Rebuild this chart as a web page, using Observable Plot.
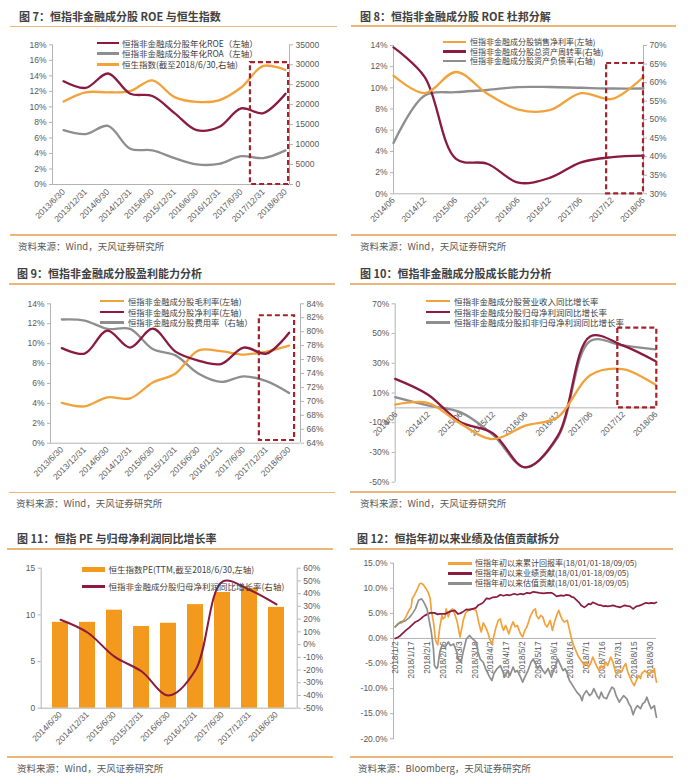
<!DOCTYPE html>
<html><head><meta charset="utf-8">
<script src="https://cdn.jsdelivr.net/npm/d3@7"></script>
<script src="https://cdn.jsdelivr.net/npm/@observablehq/plot@0.6"></script>
<style>
html,body{margin:0;padding:0;background:#fff;}
#root{position:relative;width:696px;height:784px;overflow:hidden;background:#fff;}
.t{position:absolute;white-space:nowrap;}
</style></head><body><div id="root"></div>
<script>
// ---------- DATA ----------
const cats7 = ["2013/6/30","2013/12/31","2014/6/30","2014/12/31","2015/6/30","2015/12/31","2016/6/30","2016/12/31","2017/6/30","2017/12/31","2018/6/30"];
const roe7 = [13.3,12.45,14.3,11.7,11.4,9.2,7.0,7.4,9.8,9.2,11.7];
const roa7 = [7.0,6.5,7.55,4.6,4.4,3.4,2.6,2.65,3.65,3.4,4.4];
const hsi7 = [20800,23100,23100,23400,26100,21900,20700,21100,24300,29700,28700];
const yTicks7 = [0,2,4,6,8,10,12,14,16,18];
const rTicks7 = [0,5000,10000,15000,20000,25000,30000,35000];

const cats8 = ["2014/06","2014/12","2015/06","2015/12","2016/06","2016/12","2017/06","2017/12","2018/06"];
const npm8 = [11.15,9.5,11.5,9.45,7.95,7.9,9.5,8.95,11.05];
const turn8 = [69.5,61.5,39.4,38.1,33.0,34.3,38.5,39.9,40.3];
const debt8 = [43.7,56.5,57.4,58.0,58.8,58.8,58.6,58.4,58.4];
const yTicks8 = [0,2,4,6,8,10,12,14];
const rTicks8 = [30,35,40,45,50,55,60,65,70];

const cats9 = cats7;
const gpm9 = [4.05,3.7,4.6,4.5,6.1,7.0,9.3,9.25,8.9,9.2,9.8];
const npm9 = [9.55,9.0,11.3,9.6,11.5,9.2,8.3,7.95,9.6,9.0,11.1];
const exp9 = [81.75,81.6,80.4,80.4,77.5,76.6,74.0,72.8,73.6,72.9,71.2];
const yTicks9 = [0,2,4,6,8,10,12,14];
const rTicks9 = [64,66,68,70,72,74,76,78,80,82,84];

const cats10 = cats8;
const rev10 = [2.2,3.4,-10.5,-21,-12,-6.3,22,26,15.7];
const np10 = [19.5,9,-9.5,-17,-40,-19,48,42,31.5];
const dnp10 = [7.2,1.6,-2.9,-18,-40,-20,45,42,39.3];
const yTicks10 = [-50,-30,-10,10,30,50,70];

const cats11 = ["2014/6/30","2014/12/31","2015/6/30","2015/12/31","2016/6/30","2016/12/31","2017/6/30","2017/12/31","2018/6/30"];
const pe11 = [9.2,9.2,10.5,8.75,9.1,11.1,12.4,12.85,10.8];
const np11 = [19.5,9.5,-9.5,-21,-40,-20,49.5,43,31.5];
const yTicks11 = [0,5,10,15];
const rTicks11 = [-50,-40,-30,-20,-10,0,10,20,30,40,50,60];

const ticks12 = ["1/2","1/17","2/1","2/16","3/3","3/18","4/2","4/17","5/2","5/17","6/1","6/16","7/1","7/16","7/31","8/15","8/30"];
const yTicks12 = [-20,-15,-10,-5,0,5,10,15];
const retDates = ["1/2","1/5","1/8","1/10","1/12","1/15","1/17","1/18","1/20","1/23","1/25","1/27","1/29","1/30","2/1","2/2","2/4","2/5","2/7","2/9","2/11","2/13","2/15","2/16","2/18","2/19","2/21","2/23","2/25","2/27","3/1","3/2","3/4","3/6","3/7","3/9","3/10","3/13","3/16","3/19","3/20","3/22","3/24","3/26","3/28","3/30","4/1","4/3","4/5","4/7","4/9","4/11","4/12","4/14","4/16","4/19","4/21","4/23","4/25","4/27","4/30","5/2","5/4","5/6","5/9","5/12","5/14","5/15","5/17","5/19","5/21","5/23","5/25","5/28","5/30","6/1","6/3","6/5","6/6","6/8","6/10","6/13","6/15","6/17","6/19","6/21","6/23","6/25","6/27","6/29","7/1","7/3","7/5","7/7","7/9","7/11","7/13","7/15","7/17","7/19","7/21","7/24","7/26","7/28","7/29","8/1","8/3","8/5","8/7","8/9","8/11","8/13","8/15","8/17","8/19","8/21","8/22","8/25","8/28","8/29","8/31","9/2","9/3","9/4","9/5"];
const retVals = [2.3,3.0,3.1,3.6,4.3,5.6,6.2,7.9,8.6,9.9,10.9,11.0,10.6,10.2,9.6,9.2,7.9,5.6,3.3,-0.4,-1.3,2.3,4.6,3.9,4.3,5.9,4.3,5.6,5.9,4.9,3.6,2.6,0.3,2.3,3.6,4.9,5.2,5.9,5.9,5.6,4.9,2.9,1.3,3.1,2.3,1.3,-0.1,-1.1,0.6,2.3,3.6,3.9,2.9,1.6,2.6,0.9,2.3,3.3,2.3,2.6,0.9,0.3,1.6,2.3,4.3,5.6,5.9,4.6,3.9,4.6,4.3,2.9,2.3,3.6,1.6,3.3,4.6,5.6,4.9,3.9,3.3,3.6,1.8,-0.1,-1.4,-2.4,-3.4,-4.1,-4.7,-5.4,-4.7,-5.7,-5.0,-3.7,-4.7,-5.7,-6.4,-5.4,-6.0,-4.7,-5.4,-3.7,-4.7,-6.4,-7.0,-6.4,-6.7,-5.7,-5.0,-6.7,-7.7,-8.7,-9.4,-8.4,-7.4,-8.0,-7.0,-6.4,-7.0,-7.4,-6.4,-6.7,-6.0,-7.7,-8.7];
const perfDates = ["1/2","1/5","1/7","1/10","1/12","1/15","1/17","1/19","1/21","1/24","1/26","1/28","1/30","2/2","2/4","2/8","2/11","2/13","2/18","2/21","2/23","2/27","3/2","3/4","3/6","3/10","3/13","3/16","3/19","3/21","3/24","3/26","3/29","4/1","4/4","4/8","4/11","4/14","4/17","4/20","4/24","4/27","4/30","5/3","5/6","5/9","5/12","5/15","5/18","5/22","5/25","5/29","5/31","6/3","6/5","6/7","6/10","6/12","6/15","6/17","6/19","6/22","6/24","6/26","6/29","7/1","7/3","7/5","7/7","7/10","7/12","7/15","7/17","7/19","7/21","7/24","7/26","7/29","8/2","8/4","8/6","8/8","8/11","8/14","8/17","8/19","8/22","8/24","8/26","8/29","8/31","9/3","9/5"];
const perfVals = [0,0.3,0.6,1.2,1.6,2.1,2.5,2.9,3.3,3.6,3.9,4.3,4.6,4.9,5.1,5.1,4.8,4.9,4.9,5.2,5.4,5.6,4.9,5.0,5.2,5.8,5.7,5.9,6.1,6.6,6.9,7.2,8.0,7.9,8.2,8.3,8.7,8.5,8.7,8.6,8.9,8.7,8.9,8.8,9.1,9.0,9.3,9.2,9.1,9.0,9.1,9.1,8.9,8.4,8.5,8.6,8.5,8.7,8.6,8.3,8.2,7.6,7.2,6.6,6.2,6.5,6.9,6.8,7.2,6.9,6.7,6.6,6.4,6.5,6.4,6.5,6.6,6.4,6.2,6.4,6.6,6.5,6.4,5.9,6.4,6.5,6.7,6.9,7.1,7.0,7.1,7.0,7.2];
const valDates = ["1/2","1/5","1/7","1/10","1/12","1/15","1/17","1/19","1/21","1/24","1/27","1/29","2/1","2/3","2/5","2/7","2/8","2/10","2/11","2/13","2/15","2/18","2/21","2/23","2/26","3/1","3/2","3/5","3/7","3/10","3/13","3/16","3/19","3/21","3/23","3/26","3/28","4/1","4/3","4/5","4/8","4/11","4/13","4/15","4/18","4/20","4/23","4/25","4/27","4/30","5/2","5/4","5/7","5/10","5/12","5/14","5/16","5/18","5/21","5/23","5/26","5/29","5/31","6/2","6/4","6/6","6/9","6/11","6/13","6/15","6/17","6/19","6/22","6/25","6/27","6/28","7/1","7/4","7/6","7/8","7/11","7/13","7/15","7/17","7/20","7/22","7/25","7/27","7/29","8/1","8/3","8/5","8/8","8/10","8/12","8/14","8/16","8/18","8/21","8/23","8/25","8/27","8/29","8/31","9/3","9/4","9/5"];
const valVals = [2.3,2.9,3.3,3.4,3.6,4.1,4.6,5.2,5.9,7.6,7.9,7.2,5.9,3.6,1.3,-2.1,-5.4,-6.0,-5.7,-2.7,-1.4,-1.7,-0.7,-1.4,-1.1,-2.7,-4.1,-4.7,-2.7,-0.1,0.6,-0.1,-0.7,-2.7,-4.1,-4.8,-6.0,-7.7,-8.4,-7.0,-6.0,-5.4,-6.4,-7.7,-6.4,-7.4,-5.7,-6.7,-6.4,-7.7,-8.7,-7.7,-6.4,-4.7,-4.1,-5.0,-6.0,-5.4,-6.4,-7.0,-6.0,-7.7,-6.4,-5.4,-4.1,-5.0,-6.4,-6.0,-7.0,-8.4,-9.0,-9.7,-10.7,-11.4,-12.4,-11.4,-10.4,-11.4,-11.0,-10.0,-11.4,-12.0,-10.7,-11.7,-12.0,-11.0,-9.7,-10.0,-11.4,-12.7,-12.0,-11.4,-12.0,-13.0,-13.7,-15.2,-14.0,-13.4,-14.0,-13.0,-12.7,-11.7,-13.0,-14.0,-13.4,-14.7,-15.7];

// highlight (dashed box) annotations, in data units
const hl7 = [{x1:8.42,x2:10.14,y1:0,y2:15.7}];
const hl8 = [{x1:6.82,x2:8,y1:0,y2:12.3}];
const hl9 = [{x1:8.69,x2:10.24,y1:0.27,y2:12.8}];
const hl10 = [{x1:6.85,x2:8.05,y1:0,y2:53.6}];

// ---------- STYLE ----------
const ORANGE="#F2A23A", RED="#8A1A3E", GRAY="#8E8E8E", BAR="#F39A1E", BOXC="#A3222B";
const AX="#b3b3b3", TICK="#595959";
const NUM="'Liberation Sans', Arial, sans-serif", CJK="'Noto Sans CJK SC','Noto Sans',sans-serif";
const ST = {fontFamily:NUM, fontSize:"8.5px", background:"transparent", overflow:"visible", color:TICK};
const AXO = {stroke:AX, fill:TICK, tickSize:3, tickPadding:3, label:null};
const LW = 2.3;
const root = document.getElementById("root");

function txt(s,x,cy,size,o={}){
  const d=document.createElement("div"); d.className="t"; d.textContent=s;
  const lh=o.lh!==undefined?o.lh:Math.round(size*1.3);
  Object.assign(d.style,{left:x+"px",top:(cy-lh/2)+"px",fontSize:size+"px",lineHeight:lh+"px",height:lh+"px",
    fontFamily:o.font||CJK,color:o.color||"#404040",fontWeight:o.weight||"normal"});
  root.append(d);
}
function blk(x,y,w,h,bg){const d=document.createElement("div");
  Object.assign(d.style,{position:"absolute",left:x+"px",top:y+"px",width:w+"px",height:h+"px",background:bg});root.append(d);}
function rule(x1,x2,y){blk(x1,y-0.75,x2-x1,1.5,"#E9B77A");}
function legend(items,sx1,sx2,tx,ys,size=8.5){
  items.forEach((it,k)=>{
    if(it.bar) blk(sx1,ys[k]-2,sx2-sx1,4.5,it.color); else blk(sx1,ys[k]-1.25,sx2-sx1,2.5,it.color);
    txt(it.label,tx,ys[k],size,{lh:size});
  });
}
function mount(p,l,t){p.style.position="absolute";p.style.left=l+"px";p.style.top=t+"px";root.append(p);}
const dash = (data)=>Plot.rect(data,{x1:"x1",x2:"x2",y1:"y1",y2:"y2",fill:"none",stroke:BOXC,strokeWidth:2.2,strokeDasharray:"5,3"});

// ---------- FIG 7 ----------
{
  const d = cats7.map((c,i)=>({i,roe:roe7[i],roa:roa7[i],hsi:hsi7[i]}));
  const k = 18/35000;
  mount(Plot.plot({
    width:345,height:205,marginTop:14.3,marginBottom:51,marginLeft:52,marginRight:56,
    x:{domain:[-0.5,10.18]}, y:{domain:[0,18]}, style:ST,
    marks:[
      Plot.ruleX([-0.5],{stroke:AX}), Plot.ruleX([10.18],{stroke:AX}), Plot.ruleY([0],{stroke:AX}),
      Plot.axisY({...AXO,anchor:"left",ticks:yTicks7,tickFormat:v=>v+"%"}),
      Plot.axisY({...AXO,anchor:"right",ticks:rTicks7.map(v=>v*k),tickFormat:v=>String(Math.round(v/k))}),
      Plot.axisX({...AXO,anchor:"bottom",ticks:d3.range(cats7.length),tickFormat:i=>cats7[i],tickRotate:-45,tickSize:0,tickPadding:6}),
      Plot.line(d,{x:"i",y:v=>v.hsi*k,stroke:ORANGE,strokeWidth:LW,curve:"catmull-rom"}),
      Plot.line(d,{x:"i",y:"roa",stroke:GRAY,strokeWidth:LW,curve:"catmull-rom"}),
      Plot.line(d,{x:"i",y:"roe",stroke:RED,strokeWidth:LW,curve:"catmull-rom"}),
      dash(hl7)
    ]}),0,30);
  legend([{label:"恒指非金融成分股年化ROE（左轴）",color:RED},{label:"恒指非金融成分股年化ROA（左轴）",color:GRAY},{label:"恒生指数(截至2018/6/30,右轴)",color:ORANGE}],97,119,122,[43,53.7,64.5]);
}
// ---------- FIG 8 ----------
{
  const d = cats8.map((c,i)=>({i,npm:npm8[i],turn:turn8[i],debt:debt8[i]}));
  const f = r=>(r-30)*14/40;
  mount(Plot.plot({
    width:345,height:205,marginTop:15,marginBottom:41.7,marginLeft:45,marginRight:50,
    x:{domain:[0,8]}, y:{domain:[0,14]}, style:ST,
    marks:[
      Plot.ruleX([0],{stroke:AX}), Plot.ruleX([8],{stroke:AX}), Plot.ruleY([0],{stroke:AX}),
      Plot.axisY({...AXO,anchor:"left",ticks:yTicks8,tickFormat:v=>v+"%"}),
      Plot.axisY({...AXO,anchor:"right",ticks:rTicks8.map(f),tickFormat:v=>Math.round(v*40/14+30)+"%"}),
      Plot.axisX({...AXO,anchor:"bottom",ticks:d3.range(cats8.length),tickFormat:i=>cats8[i],tickRotate:-45,tickSize:0,tickPadding:5}),
      Plot.line(d,{x:"i",y:v=>f(v.debt),stroke:GRAY,strokeWidth:LW,curve:"catmull-rom"}),
      Plot.line(d,{x:"i",y:v=>f(v.turn),stroke:RED,strokeWidth:LW,curve:"catmull-rom"}),
      Plot.line(d,{x:"i",y:"npm",stroke:ORANGE,strokeWidth:LW,curve:"catmull-rom"}),
      dash(hl8)
    ]}),348,30);
  legend([{label:"恒指非金融成分股销售净利率(左轴)",color:ORANGE},{label:"恒指非金融成分股总资产周转率(右轴)",color:RED},{label:"恒指非金融成分股资产负债率(右轴)",color:GRAY}],443,466,470,[42,51.5,61],8);
}
// ---------- FIG 9 ----------
{
  const d = cats9.map((c,i)=>({i,g:gpm9[i],n:npm9[i],e:exp9[i]}));
  const f = r=>(r-64)*14/20;
  mount(Plot.plot({
    width:345,height:200,marginTop:15.3,marginBottom:45.3,marginLeft:50,marginRight:45,
    x:{domain:[-0.5,10.5]}, y:{domain:[0,14]}, style:ST,
    marks:[
      Plot.ruleX([-0.5],{stroke:AX}), Plot.ruleX([10.5],{stroke:AX}), Plot.ruleY([0],{stroke:AX}),
      Plot.axisY({...AXO,anchor:"left",ticks:yTicks9,tickFormat:v=>v+"%"}),
      Plot.axisY({...AXO,anchor:"right",ticks:rTicks9.map(f),tickFormat:v=>Math.round(v*20/14+64)+"%"}),
      Plot.axisX({...AXO,anchor:"bottom",ticks:d3.range(cats9.length),tickFormat:i=>cats9[i],tickRotate:-45,tickSize:0,tickPadding:5}),
      Plot.line(d,{x:"i",y:v=>f(v.e),stroke:GRAY,strokeWidth:LW,curve:"catmull-rom"}),
      Plot.line(d,{x:"i",y:"g",stroke:ORANGE,strokeWidth:LW,curve:"catmull-rom"}),
      Plot.line(d,{x:"i",y:"n",stroke:RED,strokeWidth:LW,curve:"catmull-rom"}),
      dash(hl9)
    ]}),0,288);
  legend([{label:"恒指非金融成分股毛利率(左轴)",color:ORANGE},{label:"恒指非金融成分股净利率(左轴)",color:RED},{label:"恒指非金融成分股费用率（右轴）",color:GRAY}],100,124,128,[301.2,311.8,322.5],8.3);
}
// ---------- FIG 10 ----------
{
  const d = cats10.map((c,i)=>({i,r:rev10[i],n:np10[i],dn:dnp10[i]}));
  mount(Plot.plot({
    width:345,height:200,marginTop:15.3,marginBottom:6.3,marginLeft:46.7,marginRight:36.7,
    x:{domain:[0,8.05],axis:null}, y:{domain:[-50,70]}, style:ST,
    marks:[
      Plot.ruleX([0],{stroke:AX}), Plot.ruleY([0],{stroke:AX}),
      Plot.axisY({...AXO,anchor:"left",ticks:yTicks10,tickFormat:v=>v+"%"}),
      Plot.text(d3.range(cats10.length),{x:i=>i,y:0,text:i=>cats10[i],rotate:-45,textAnchor:"end",dy:5,dx:1,fill:TICK}),
      Plot.line(d,{x:"i",y:"dn",stroke:GRAY,strokeWidth:LW,curve:"catmull-rom"}),
      Plot.line(d,{x:"i",y:"n",stroke:RED,strokeWidth:LW,curve:"catmull-rom"}),
      Plot.line(d,{x:"i",y:"r",stroke:ORANGE,strokeWidth:LW,curve:"catmull-rom"}),
      dash(hl10)
    ]}),348,288);
  legend([{label:"恒指非金融成分股营业收入同比增长率",color:ORANGE},{label:"恒指非金融成分股归母净利润同比增长率",color:RED},{label:"恒指非金融成分股扣非归母净利润同比增长率",color:GRAY}],426,450,454,[301,311.8,322.7]);
}
// ---------- FIG 11 ----------
{
  const d = cats11.map((c,i)=>({c,pe:pe11[i],np:np11[i]}));
  const f = r=>(r+50)*15/110;
  mount(Plot.plot({
    width:345,height:200,marginTop:15.7,marginBottom:44.3,marginLeft:40.7,marginRight:48.3,
    x:{type:"band",domain:cats11,padding:0.39}, y:{domain:[0,15]}, style:ST,
    marks:[
      Plot.barY(d,{x:"c",y:"pe",fill:BAR}),
      Plot.frame({anchor:"left",stroke:AX}), Plot.frame({anchor:"right",stroke:AX}), Plot.ruleY([0],{stroke:AX}),
      Plot.axisY({...AXO,anchor:"left",ticks:yTicks11,tickFormat:v=>String(v)}),
      Plot.axisY({...AXO,anchor:"right",ticks:rTicks11.map(f),tickFormat:v=>Math.round(v*110/15-50)+"%"}),
      Plot.axisX({...AXO,anchor:"bottom",tickRotate:-45,tickSize:0,tickPadding:5}),
      Plot.line(d,{x:"c",y:v=>f(v.np),stroke:RED,strokeWidth:2,curve:"catmull-rom"})
    ]}),0,552);
  legend([{label:"恒生指数PE(TTM,截至2018/6/30,左轴)",color:BAR,bar:true},{label:"恒指非金融成分股归母净利润同比增长率(右轴)",color:RED}],82,105,108.5,[569,586.5]);
}
// ---------- FIG 12 ----------
{
  const pd = d3.utcParse("%Y/%m/%d");
  const mk = (ds,vs)=>ds.map((s,i)=>({date:pd("2018/"+s),v:vs[i]}));
  const ret=mk(retDates,retVals), perf=mk(perfDates,perfVals), val=mk(valDates,valVals);
  mount(Plot.plot({
    width:345,height:200,marginTop:10.7,marginBottom:13.7,marginLeft:45,marginRight:37,
    x:{type:"utc",domain:[new Date(Date.UTC(2017,11,31,10)),new Date(Date.UTC(2018,8,5))],axis:null},
    y:{domain:[-20,15]}, style:ST,
    marks:[
      Plot.frame({anchor:"left",stroke:AX}), Plot.ruleY([0],{stroke:AX}),
      Plot.axisY({...AXO,anchor:"left",ticks:yTicks12,tickFormat:v=>v.toFixed(1)+"%"}),
      Plot.text(ticks12,{x:s=>pd("2018/"+s),y:0,text:s=>"2018/"+s,rotate:-90,textAnchor:"end",dy:3,fill:TICK,fontSize:8.3}),
      Plot.line(ret,{x:"date",y:"v",stroke:ORANGE,strokeWidth:1.7}),
      Plot.line(perf,{x:"date",y:"v",stroke:RED,strokeWidth:1.7}),
      Plot.line(val,{x:"date",y:"v",stroke:GRAY,strokeWidth:1.7})
    ]}),348,552);
  legend([{label:"恒指年初以来累计回报率(18/01/01-18/09/05)",color:ORANGE},{label:"恒指年初以来业绩贡献(18/01/01-18/09/05)",color:RED},{label:"恒指年初以来估值贡献(18/01/01-18/09/05)",color:GRAY}],448,472,475,[563.4,573.4,583.4],8);
}

// ---------- TITLES, RULES, SOURCES ----------
const TS=11;
txt("图 7：恒指非金融成分股 ROE 与恒生指数",19,15.5,TS,{weight:"bold"});
txt("图 8：恒指非金融成分股 ROE 杜邦分解",360,15.5,TS,{weight:"bold"});
txt("图 9：恒指非金融成分股盈利能力分析",17,273,TS,{weight:"bold"});
txt("图 10：恒指非金融成分股成长能力分析",360,273,TS,{weight:"bold"});
txt("图 11：恒指 PE 与归母净利润同比增长率",17,538,TS,{weight:"bold"});
txt("图 12：恒指年初以来业绩及估值贡献拆分",357,538,TS,{weight:"bold"});
rule(10,337,26.5); rule(351,676,26); rule(9,335,284); rule(350,676,284); rule(7,333,549); rule(350,673,549);
rule(10,337,235); rule(351,676,235); rule(9,335,492.3); rule(350,676,492); rule(7,333,757); rule(350,673,757);
const SS=9.5, SC={color:"#595959"};
txt("资料来源：Wind，天风证券研究所",18,246,SS,SC);
txt("资料来源：Wind，天风证券研究所",360,246,SS,SC);
txt("资料来源：Wind，天风证券研究所",16,503,SS,SC);
txt("资料来源：Wind，天风证券研究所",360,503,SS,SC);
txt("资料来源：Wind，天风证券研究所",17,768,SS,SC);
txt("资料来源：Bloomberg，天风证券研究所",358,768,SS,SC);
</script></body></html>
